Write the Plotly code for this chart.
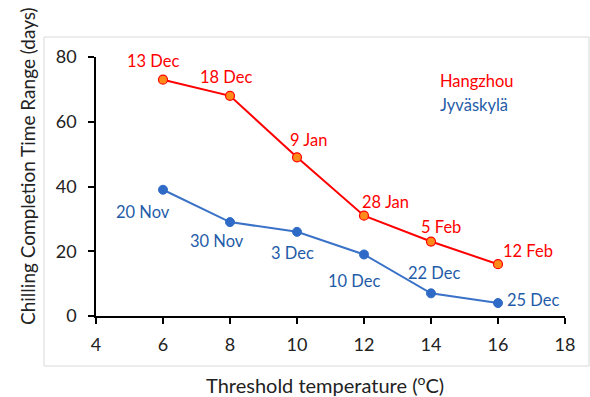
import plotly.graph_objects as go

# ---- data ----
thresholds = [6, 8, 10, 12, 14, 16]
hangzhou_days = [73, 68, 49, 31, 23, 16]
jyvaskyla_days = [39, 29, 26, 19, 7, 4]
hangzhou_dates = ["13 Dec", "18 Dec", "9 Jan", "28 Jan", "5 Feb", "12 Feb"]
jyvaskyla_dates = ["20 Nov", "30 Nov", "3 Dec", "10 Dec", "22 Dec", "25 Dec"]
x_ticks = [4, 6, 8, 10, 12, 14, 16, 18]
y_ticks = [0, 20, 40, 60, 80]

# label offsets (pixels) relative to their points
hz_shift = [(-10, 19), (-4, 19), (11, 17), (21, 14), (10, 15), (30, 13)]
jy_shift = [(-20, -22), (-13, -19), (-5, -21), (-10, -27), (3, 20), (35, 3)]

RED = "#FF0000"
ORANGE = "#FF8C1A"
BLUE_LINE = "#3A72C8"
BLUE_MARK = "#2F6BC6"
BLUE_TEXT = "#1F5CA8"
FONT = "Lato"
LBL = 16.5

fig = go.Figure()
fig.add_trace(go.Scatter(
    x=thresholds, y=hangzhou_days, mode="lines+markers", name="Hangzhou",
    line=dict(color=RED, width=2),
    marker=dict(size=9, color=ORANGE, line=dict(color=RED, width=1.2)),
))
fig.add_trace(go.Scatter(
    x=thresholds, y=jyvaskyla_days, mode="lines+markers", name="Jyväskylä",
    line=dict(color=BLUE_LINE, width=2),
    marker=dict(size=9, color=BLUE_MARK, line=dict(color=BLUE_MARK, width=1)),
))

anns = []
for x, y, t, (dx, dy) in zip(thresholds, hangzhou_days, hangzhou_dates, hz_shift):
    anns.append(dict(x=x, y=y, text=t, showarrow=False, xshift=dx, yshift=dy,
                     font=dict(family=FONT, size=LBL, color=RED)))
for x, y, t, (dx, dy) in zip(thresholds, jyvaskyla_days, jyvaskyla_dates, jy_shift):
    anns.append(dict(x=x, y=y, text=t, showarrow=False, xshift=dx, yshift=dy,
                     font=dict(family=FONT, size=LBL, color=BLUE_TEXT)))

# legend-like text
anns.append(dict(xref="paper", yref="paper", x=(438 - 96) / 469, y=(316 - 81) / 259,
                 xanchor="left", yanchor="middle", text="Hangzhou", showarrow=False,
                 font=dict(family=FONT, size=LBL, color=RED)))
anns.append(dict(xref="paper", yref="paper", x=(438 - 96) / 469, y=(316 - 105) / 259,
                 xanchor="left", yanchor="middle", text="Jyväskylä", showarrow=False,
                 font=dict(family=FONT, size=LBL, color=BLUE_TEXT)))

# axis titles
anns.append(dict(xref="paper", yref="paper", x=(27 - 96) / 469, y=(316 - 166) / 259,
                 xanchor="center", yanchor="middle", textangle=-90,
                 text="Chilling Completion Time Range (days)", showarrow=False,
                 font=dict(family=FONT, size=19, color="#222222")))
anns.append(dict(xref="paper", yref="paper", x=(325 - 96) / 469, y=(316 - 384) / 259,
                 xanchor="center", yanchor="middle",
                 text="Threshold temperature (<sup>o</sup>C)", showarrow=False,
                 font=dict(family=FONT, size=20, color="#222222")))

fig.update_layout(
    width=590, height=397,
    margin=dict(l=96, r=25, t=57, b=81),
    paper_bgcolor="white", plot_bgcolor="white",
    showlegend=False,
    annotations=anns,
    shapes=[dict(type="rect", xref="paper", yref="paper",
                 x0=(44 - 96) / 469, x1=(589 - 96) / 469,
                 y0=(316 - 366) / 259, y1=(316 - 37) / 259,
                 line=dict(color="#D9D9D9", width=1), layer="below")],
    font=dict(family=FONT, size=18, color="#222222"),
)
fig.update_xaxes(range=[4, 18], tickvals=x_ticks, showgrid=False, zeroline=False,
                 showline=True, linecolor="black", linewidth=1.5,
                 ticks="outside", ticklen=6, tickwidth=1.5, tickcolor="black",
                 ticklabelstandoff=6,
                 tickfont=dict(family=FONT, size=18, color="#222222"))
fig.update_yaxes(range=[0, 80], tickvals=y_ticks, showgrid=False, zeroline=False,
                 showline=True, linecolor="black", linewidth=1.5,
                 ticks="outside", ticklen=6, tickwidth=1.5, tickcolor="black",
                 ticklabelstandoff=8,
                 tickfont=dict(family=FONT, size=18, color="#222222"))

fig.write_html("out.html")
